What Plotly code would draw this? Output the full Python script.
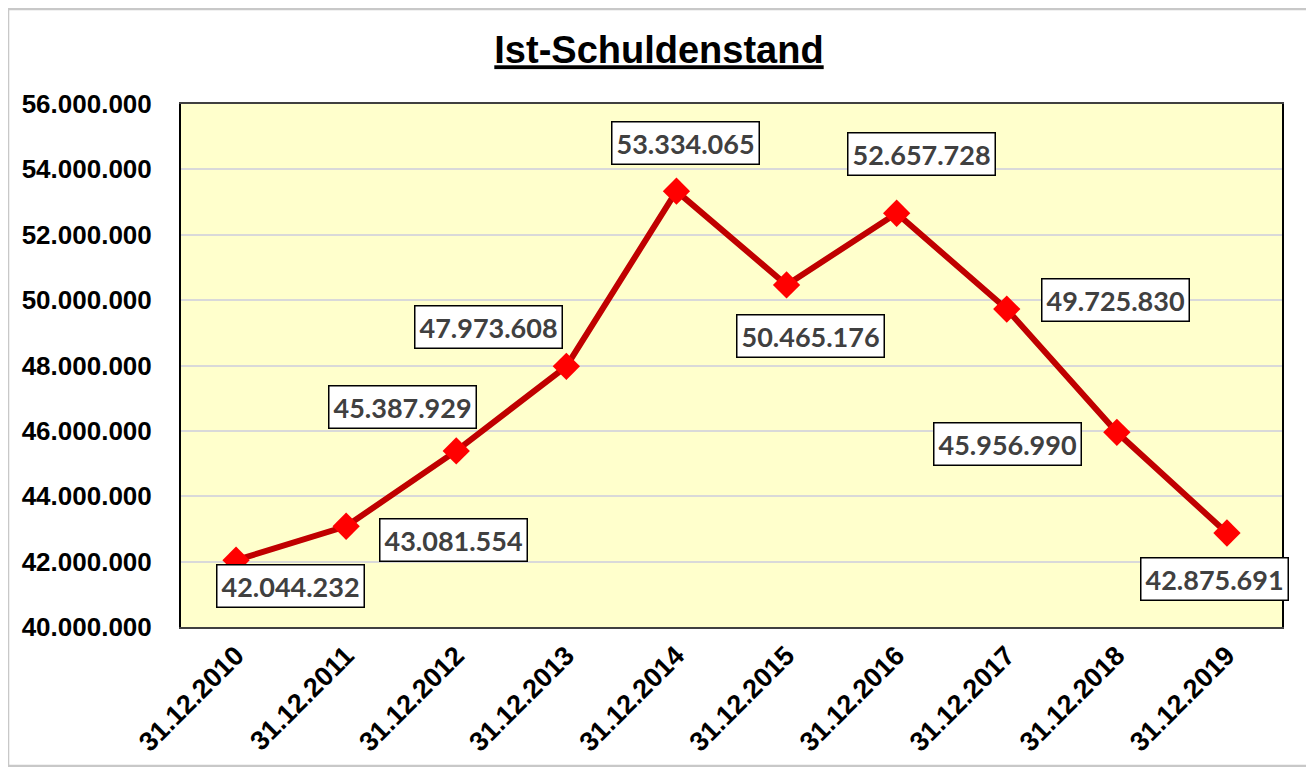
import plotly.graph_objects as go

categories = ["31.12.2010", "31.12.2011", "31.12.2012", "31.12.2013", "31.12.2014",
              "31.12.2015", "31.12.2016", "31.12.2017", "31.12.2018", "31.12.2019"]
values = [42044232, 43081554, 45387929, 47973608, 53334065,
          50465176, 52657728, 49725830, 45956990, 42875691]
label_texts = ["42.044.232", "43.081.554", "45.387.929", "47.973.608", "53.334.065",
               "50.465.176", "52.657.728", "49.725.830", "45.956.990", "42.875.691"]
y_tickvals = [40000000, 42000000, 44000000, 46000000, 48000000,
              50000000, 52000000, 54000000, 56000000]
y_ticktext = ["40.000.000", "42.000.000", "44.000.000", "46.000.000", "48.000.000",
              "50.000.000", "52.000.000", "54.000.000", "56.000.000"]
# pixel offsets of label boxes relative to their points
label_dx = [54, 107, -54, -78, 9, 24, 25, 109, -109, -12]
label_dy = [26, 14, -44, -39, -48, 51, -59, -9, 12, 46]

fig = go.Figure()
fig.add_trace(go.Scatter(
    x=categories, y=values, mode="lines+markers",
    line=dict(color="#C00000", width=6),
    marker=dict(symbol="diamond", size=21, color="#FF0000",
                line=dict(width=0)),
    hoverinfo="skip", showlegend=False,
))

for c, v, t, dx, dy in zip(categories, values, label_texts, label_dx, label_dy):
    fig.add_annotation(
        x=c, y=v, xref="x", yref="y", text="<b>" + t + "</b>",
        showarrow=True, arrowcolor="rgba(0,0,0,0)", arrowwidth=0.1,
        ax=dx, ay=dy,
        font=dict(family="Lato", size=27, color="#404040"),
        bgcolor="white", bordercolor="black", borderwidth=1.5, borderpad=4,
    )

# outer chart border
fig.add_shape(type="rect", xref="paper", yref="paper",
              x0=-0.1571, x1=1.0254, y0=-0.266, y1=1.1816,
              line=dict(color="#C8C8C8", width=2.5), fillcolor="rgba(0,0,0,0)",
              layer="below")

fig.update_layout(
    width=1314, height=767,
    margin=dict(l=173, r=40, t=96, b=148),
    paper_bgcolor="white", plot_bgcolor="#FFFFCC",
    title=dict(text="<b><u>Ist-Schuldenstand</u></b>", x=(659 - 8) / 1314, xanchor="center",
               y=1 - 42 / 767, yanchor="middle",
               font=dict(family="Liberation Sans", size=38, color="black")),
    xaxis=dict(type="category", range=[-0.5, 9.5], tickangle=-45,
               showgrid=False, showline=True, linecolor="#404040", linewidth=2,
               mirror=True, ticks="",
               tickfont=dict(family="Liberation Sans", size=27, color="black"),
               ticktext=["<b>" + c + "</b>" for c in categories], tickvals=categories),
    yaxis=dict(range=[40000000, 56000000], tickvals=y_tickvals,
               ticktext=["<b>" + t + "</b>" for t in y_ticktext],
               showgrid=True, gridcolor="#D9D9D9", gridwidth=2,
               showline=True, linecolor="black", linewidth=2, mirror=True,
               ticks="", ticklabelstandoff=22, zeroline=False,
               tickfont=dict(family="Liberation Sans", size=26, color="black")),
)

fig.write_html("out.html")
